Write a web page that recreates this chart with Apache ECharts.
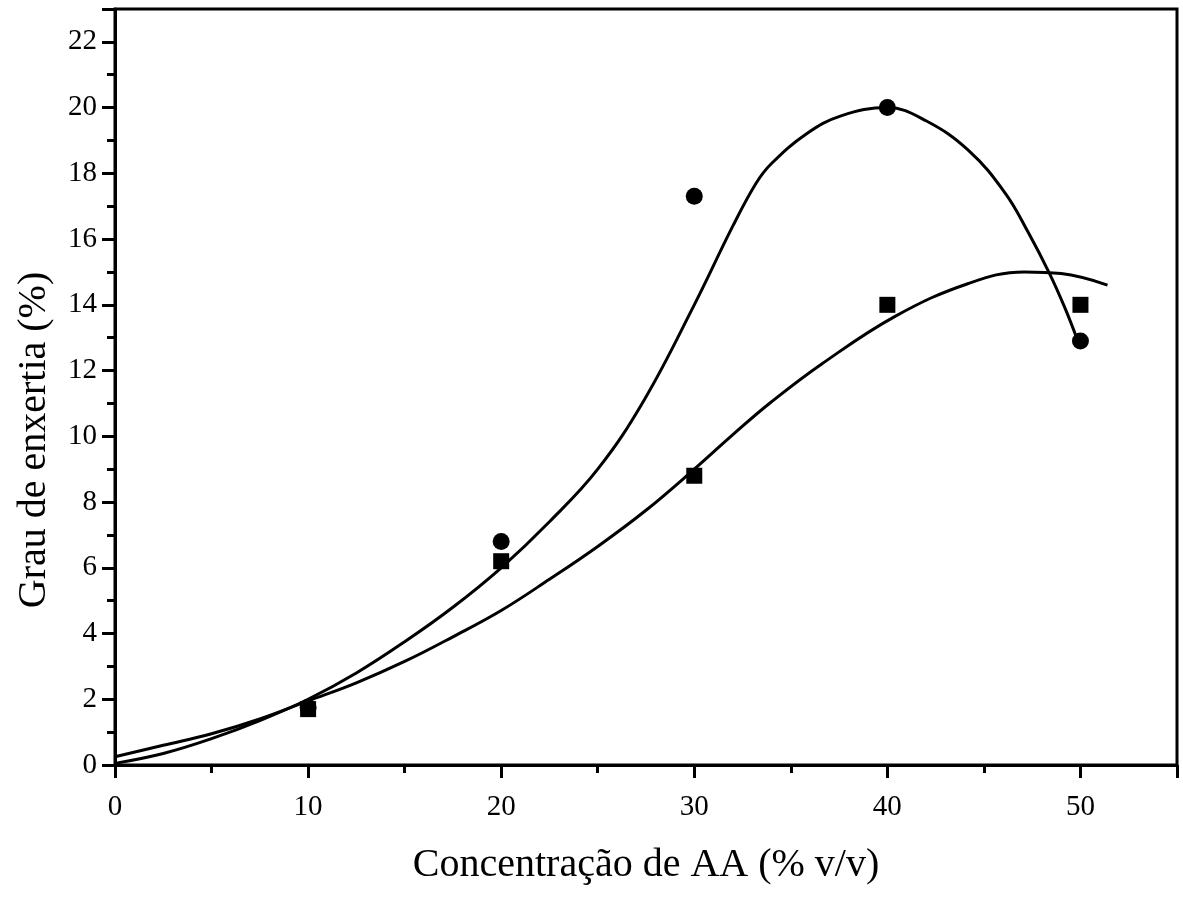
<!DOCTYPE html>
<html>
<head>
<meta charset="utf-8">
<script src="https://cdn.jsdelivr.net/npm/echarts@6/dist/echarts.min.js"></script>
<style>
  html, body { margin: 0; padding: 0; background: #fff; overflow: hidden; }
  #chart { width: 1183px; height: 901px; }
</style>
</head>
<body>
<div id="chart"></div>
<script>
// Measured grafting degree (%) versus acrylic acid concentration (% v/v)
const concentrations = [10, 20, 30, 40, 50];
const seriesCircle = [1.75, 6.8, 17.3, 20.0, 12.9];
const seriesSquare = [1.7, 6.2, 8.8, 14.0, 14.0];

// Fitted curves as [concentration, grafting degree] pairs
const fitCircle = [
  [0, 0.05], [2.5, 0.35], [5, 0.8], [7.5, 1.35], [10, 2.0], [12.5, 2.8],
  [15, 3.75], [17.5, 4.8], [20, 6.0], [22.5, 7.4], [25, 9.0], [27.4, 11.1],
  [30, 14.0], [32, 16.4], [33.2, 17.7], [34, 18.3], [35.8, 19.2],
  [37.6, 19.75], [40, 20.0], [42, 19.6], [44.2, 18.7], [46.1, 17.4],
  [47.3, 16.2], [48.4, 14.95], [49.2, 13.9], [49.8, 13.0]
];
const fitSquare = [
  [0, 0.25], [2.5, 0.6], [5, 0.95], [7.5, 1.4], [10, 1.95], [12.5, 2.5],
  [15, 3.15], [17.5, 3.9], [20, 4.7], [22.5, 5.65], [25, 6.65], [27.5, 7.75],
  [30, 9.0], [32, 10.05], [34, 11.05], [36.6, 12.2], [40.4, 13.65],
  [44.2, 14.65], [47.1, 15.0], [49, 14.95], [51.4, 14.6]
];

const xTitle = 'Concentração de AA (% v/v)';
const yTitle = 'Grau de enxertia (%)';

const font = '"Liberation Serif", "Times New Roman", serif';
const black = '#000';

const chart = echarts.init(document.getElementById('chart'), null, { renderer: 'canvas' });

const pairs = (xs, ys) => xs.map((x, i) => [x, ys[i]]);

chart.setOption({
  animation: false,
  backgroundColor: '#fff',
  grid: {
    left: 115, right: 6, top: 9, bottom: 136,
    outerBoundsMode: 'none', containLabel: false,
    show: true, borderColor: black, borderWidth: 3, backgroundColor: 'transparent'
  },
  xAxis: {
    type: 'value', min: 0, max: 55, interval: 10,
    name: xTitle, nameLocation: 'middle', nameGap: 80,
    nameTextStyle: { fontFamily: font, fontSize: 40, color: black },
    axisLine: { show: true, onZero: false, lineStyle: { color: black, width: 3 } },
    axisTick: { show: true, inside: false, length: 13, lineStyle: { color: black, width: 3 } },
    minorTick: { show: true, splitNumber: 2, length: 8, lineStyle: { color: black, width: 3 } },
    splitLine: { show: false },
    axisLabel: { fontFamily: font, fontSize: 29, color: black, margin: 28, showMaxLabel: false }
  },
  yAxis: {
    type: 'value', min: 0, max: 23, interval: 2,
    axisLine: { show: true, onZero: false, lineStyle: { color: black, width: 3 } },
    axisTick: { show: true, inside: false, length: 13, lineStyle: { color: black, width: 3 } },
    minorTick: { show: true, splitNumber: 2, length: 8, lineStyle: { color: black, width: 3 } },
    splitLine: { show: false },
    axisLabel: { fontFamily: font, fontSize: 29, color: black, margin: 18, showMaxLabel: false }
  },
  graphic: [{
    type: 'text', x: 34, y: 440, rotation: Math.PI / 2,
    style: {
      text: yTitle, fontFamily: font, fontSize: 40, fill: black,
      align: 'center', verticalAlign: 'middle'
    }
  }],
  series: [
    {
      type: 'line', data: fitCircle, smooth: 0.4, showSymbol: false,
      lineStyle: { color: black, width: 3 }, z: 2
    },
    {
      type: 'line', data: fitSquare, smooth: 0.4, showSymbol: false,
      lineStyle: { color: black, width: 3 }, z: 2
    },
    {
      type: 'scatter', data: pairs(concentrations, seriesCircle),
      symbol: 'circle', symbolSize: 17, itemStyle: { color: black, opacity: 1 }, z: 3
    },
    {
      type: 'scatter', data: pairs(concentrations, seriesSquare),
      symbol: 'rect', symbolSize: 16, itemStyle: { color: black, opacity: 1 }, z: 4
    }
  ]
});
</script>
</body>
</html>
